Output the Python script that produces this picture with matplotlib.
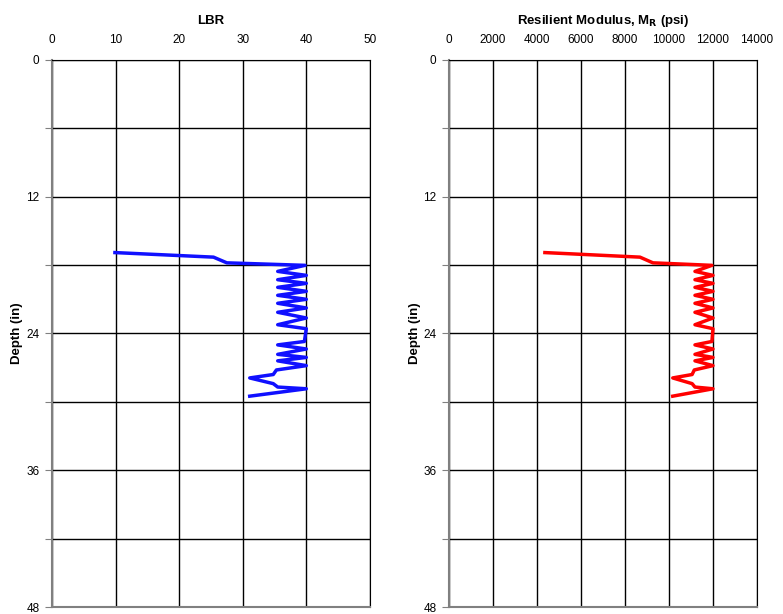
import matplotlib
matplotlib.use("Agg")
import matplotlib.pyplot as plt
from matplotlib.ticker import MultipleLocator

plt.rcParams['font.family'] = ['Liberation Sans', 'DejaVu Sans']

# profundidade (in) dos pontos medidos
depth = [16.9, 17.3, 17.8, 18.02, 18.55, 18.9, 19.28, 19.6, 19.95, 20.3, 20.65, 21.0,
         21.35, 21.76, 22.14, 22.64, 23.23, 23.58, 24.7, 25.0, 25.36, 25.83, 26.1,
         26.4, 26.82, 27.2, 27.6, 27.9, 28.4, 28.7, 28.85, 29.5]

# LBR
lbr = [9.9, 25.4, 27.5, 39.8, 35.5, 40, 35.5, 40, 35.5, 40, 35.5, 40,
       35.5, 40, 35.5, 40, 35.5, 40, 39.7, 35.5, 40, 35.5, 40,
       35.5, 40, 35.3, 34.8, 31.1, 34.8, 35.5, 40, 31.1]

# modulo resiliente (psi)
mr = [4360, 8680, 9270, 11950, 11180, 12000, 11180, 12000, 11180, 12000, 11180, 12000,
      11180, 12000, 11180, 12000, 11180, 12000, 11950, 11180, 12000, 11180, 12000,
      11180, 12000, 11150, 11050, 10170, 11050, 11180, 12000, 10170]

depth_ticks = [0, 12, 24, 36, 48]

fig = plt.figure(figsize=(7.83, 6.14), dpi=100)
ax1 = fig.add_axes([0.0664, 0.0114, 0.406, 0.8909])
ax2 = fig.add_axes([0.5734, 0.0114, 0.3934, 0.8909])

def formatar(ax, xmax, xstep, titulo, xlab):
    ax.set_xlim(0, xmax)
    ax.set_ylim(48, 0)
    ax.xaxis.set_major_locator(MultipleLocator(xstep))
    ax.xaxis.tick_top()
    ax.tick_params(axis='x', length=0, pad=10, labelsize=8.5)
    ax.set_yticks(range(0, 49, 6))
    ax.set_yticklabels([str(d) if d in depth_ticks else '' for d in range(0, 49, 6)])
    ax.tick_params(axis='y', length=5, direction='out', pad=4, labelsize=8.5, color='#808080')
    ax.grid(True, color='black', linewidth=1.0)
    for s in ['top', 'right']:
        ax.spines[s].set_color('black')
    for s in ['left', 'bottom']:
        ax.spines[s].set_color('#808080')
        ax.spines[s].set_linewidth(1.5)
    ax.set_ylabel('Depth (in)', fontweight='bold', fontsize=9.5)
    ax.yaxis.set_label_coords(xlab, 0.5)
    ax.set_title(titulo, fontweight='bold', fontsize=9.5, y=1.0, pad=26)

ax1.plot(lbr, depth, color='#1010ff', linewidth=2.5, zorder=3)
formatar(ax1, 50, 10, 'LBR', -0.092)

ax2.plot(mr, depth, color='#ff0000', linewidth=2.5, zorder=3)
formatar(ax2, 14000, 2000, r'Resilient Modulus, M$_\mathbf{R}$ (psi)', -0.092)

fig.savefig('out.png', dpi=100)
